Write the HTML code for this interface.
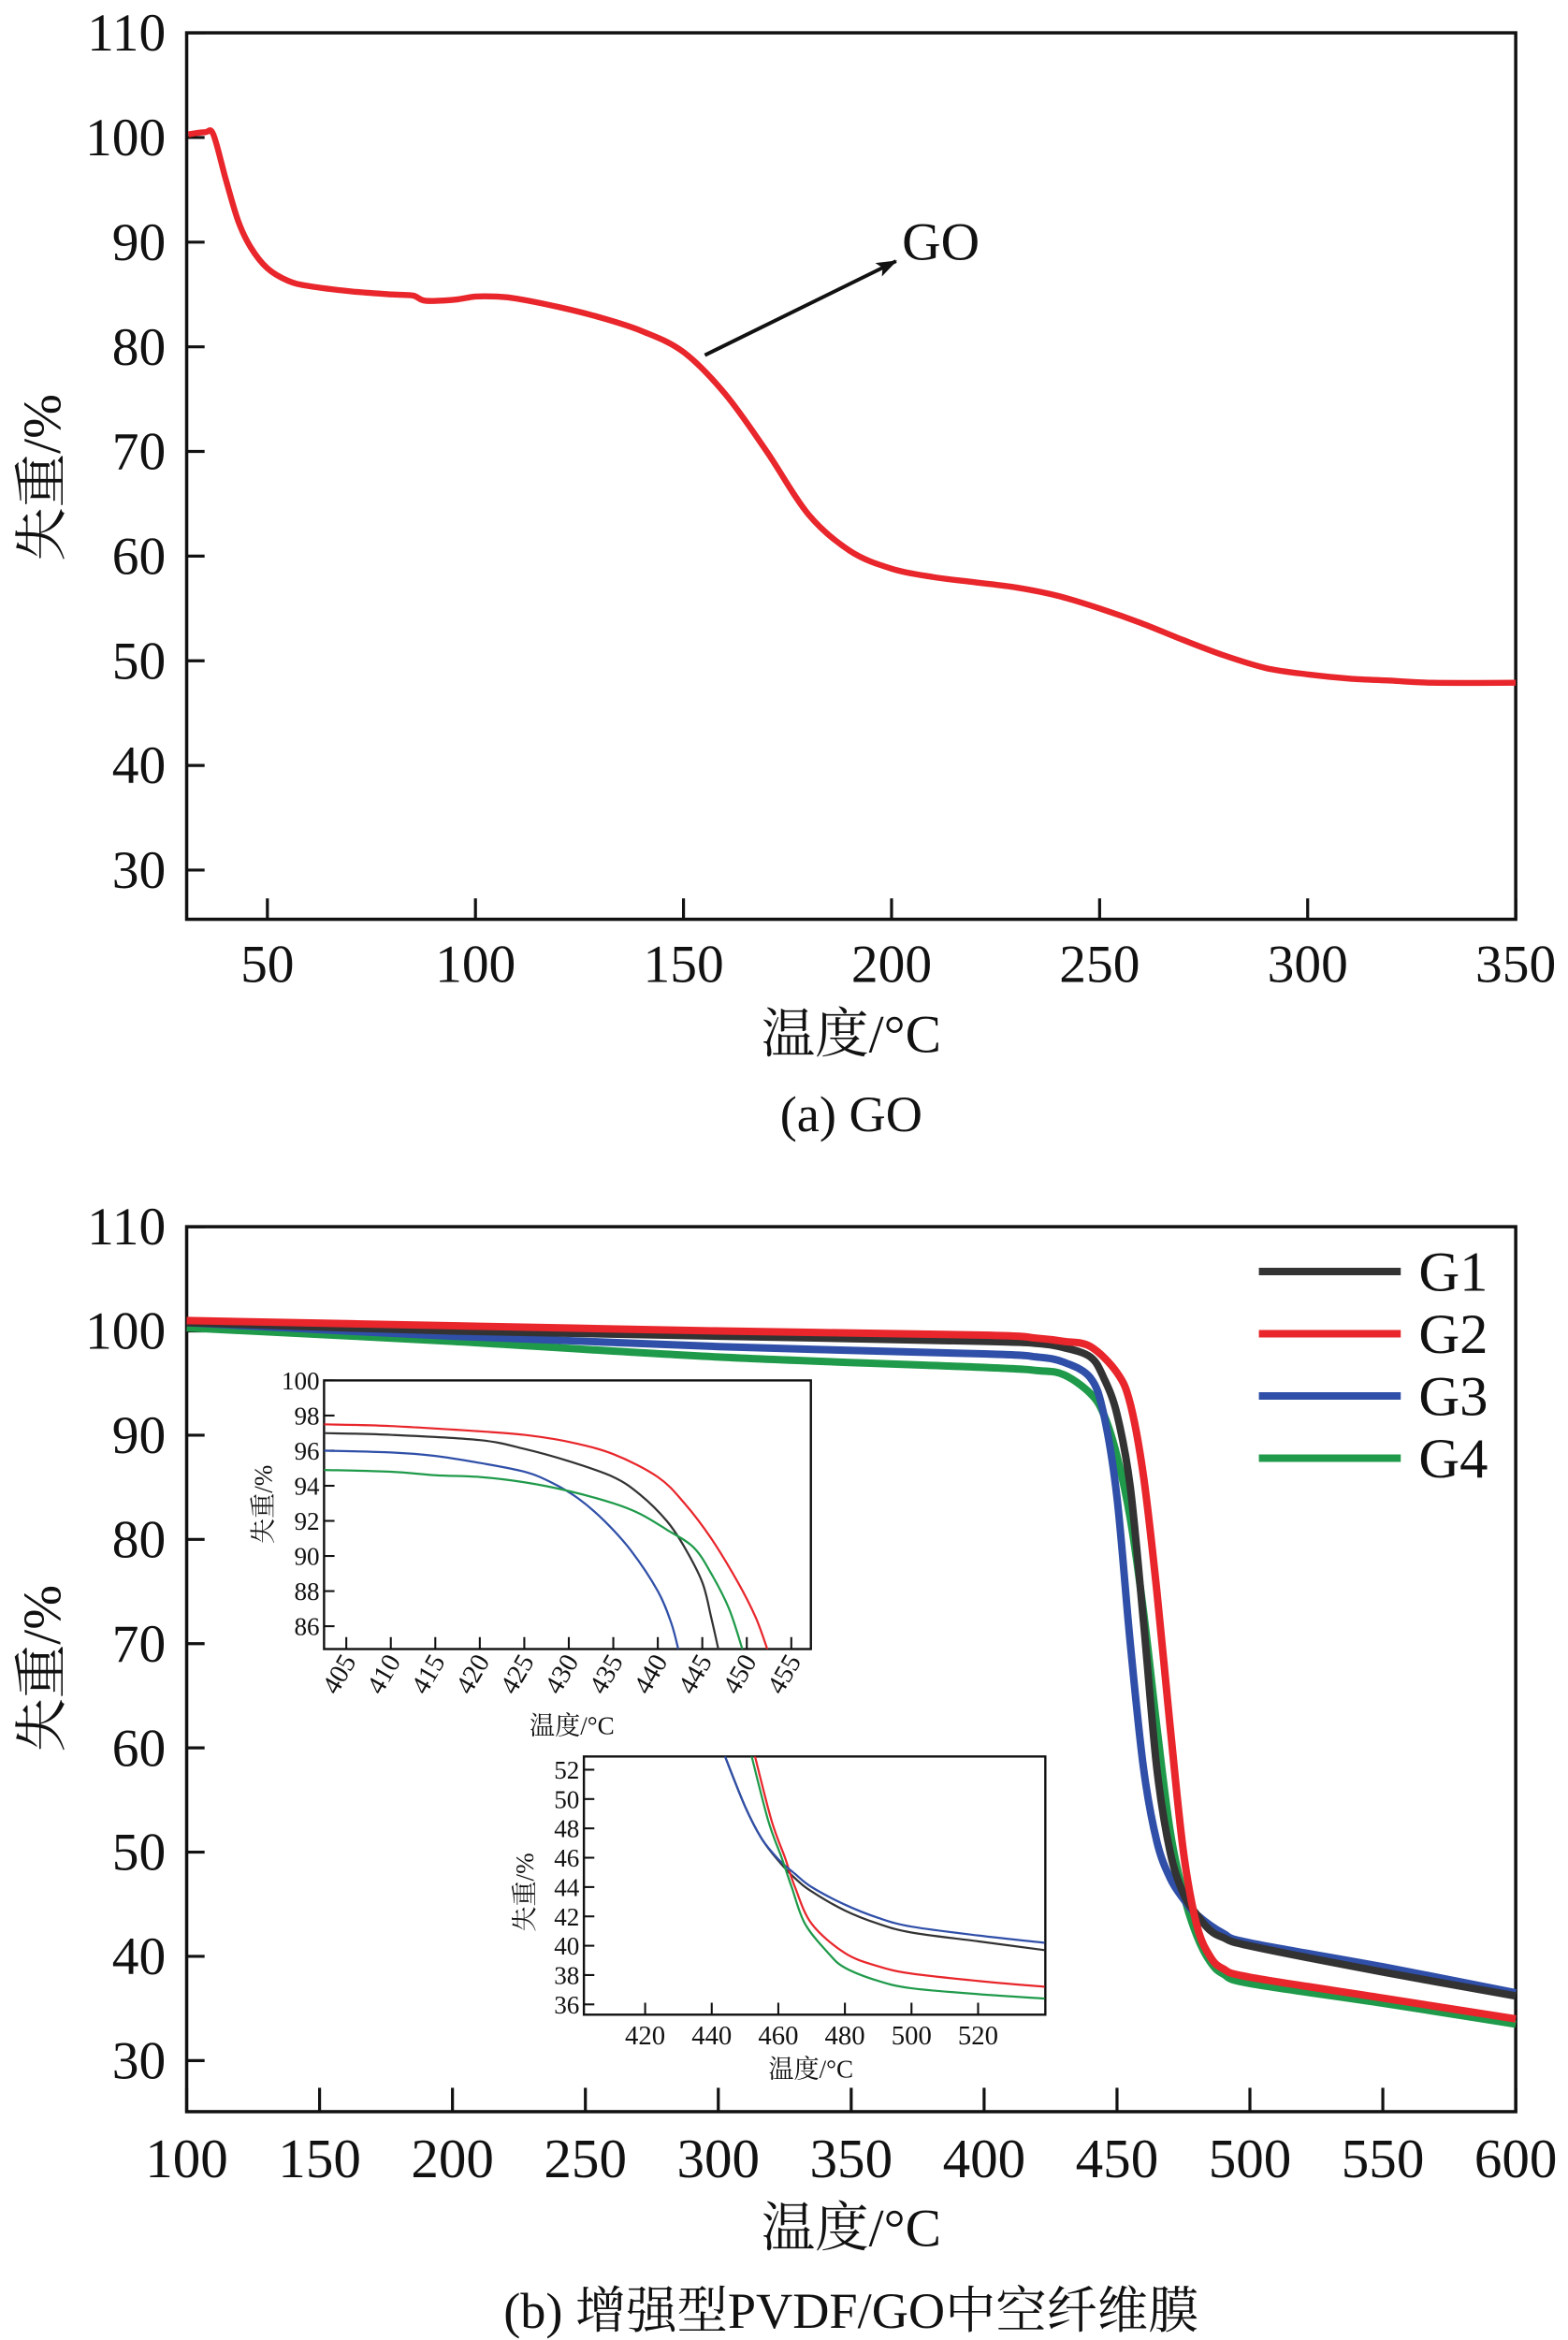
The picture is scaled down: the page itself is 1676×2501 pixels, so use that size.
<!DOCTYPE html>
<html><head><meta charset="utf-8"><style>
html,body{margin:0;padding:0;background:#fff}
svg{display:block}
text{font-family:"Liberation Serif","Noto Serif CJK SC","Noto Sans CJK SC",serif;fill:#111}
</style></head><body>
<svg id="fig" xmlns="http://www.w3.org/2000/svg" width="1676" height="2501" viewBox="0 0 1050 1568" preserveAspectRatio="none"></svg>
<script>
// ---- Data: chart (a) GO ----
const goTemps = [31,35,37,40,43,46,50,55,60,70,80,85,88,95,100,105,110,120,130,140,150,160,170,180,190,200,210,220,230,240,250,260,270,280,290,300,310,320,330,350];
const goWeight = [100.3,100.5,100.3,96,92,89.5,87.5,86.3,85.8,85.3,85,84.9,84.4,84.5,84.8,84.8,84.6,83.8,82.8,81.5,79.5,75.5,70,64,60.5,58.8,58,57.5,57,56.2,55,53.6,52,50.5,49.3,48.7,48.3,48.1,47.9,47.9];
const aXTicks = [50,100,150,200,250,300,350];
const aYTicks = [30,40,50,60,70,80,90,100,110];
// ---- Data: chart (b) main ----
const seriesNames = ["G1","G2","G3","G4"];
const seriesColors = ["#333333","#e8262b","#2f4fa8","#1f9a4a"];
const g1T=[100,200,300,400,420,430,440,445,450,455,460,465,470,475,480,485,490,500,550,600];
const g1W=[100.8,100,99.5,99,98.8,98.4,97.5,95.5,92,85,72,58,50,46,44,42.5,41.8,41,38.5,36.2];
const g2T=[100,200,300,400,420,430,440,450,455,460,465,470,475,480,485,490,500,550,600];
const g2W=[101,100.5,100,99.6,99.3,99,98.5,96,93,86,75,62,50,43,40,38.8,38,36,34];
const g3T=[100,200,300,400,420,430,440,445,450,455,460,465,470,475,480,490,500,550,600];
const g3W=[100.8,99.5,98.5,97.8,97.5,97,95.5,92,84,70,58,51,47.5,45.5,44,42.2,41.3,39,36.5];
const g4T=[100,200,300,400,420,430,440,445,450,455,460,465,470,475,480,485,490,500,550,600];
const g4W=[100.3,99,97.5,96.5,96.2,95.8,94,92,88,82,73,62,52,46,42,39.5,38.3,37.4,35.5,33.5];
const bXTicks=[100,150,200,250,300,350,400,450,500,550,600];
const bYTicks=[30,40,50,60,70,80,90,100,110];
// ---- Inset 1 ----
const i1g1T=[402.5,410,420,425,430,435,438,441,443,445,446,446.8];
const i1g1W=[97,96.9,96.6,96.1,95.4,94.5,93.5,92,90.5,88.5,86.5,84.7];
const i1g2T=[402.5,410,420,425,430,435,440,443,446,449,451,452.3];
const i1g2W=[97.5,97.4,97.1,96.9,96.5,95.8,94.5,93,91,88.5,86.5,84.7];
const i1g3T=[402.5,410,415,420,425,428,431,434,437,440,441.5,442.3];
const i1g3W=[96,95.9,95.7,95.3,94.8,94.2,93.3,92,90.3,88,86.2,84.7];
const i1g4T=[402.5,410,415,420,425,430,435,438,441,444,446,448,449.5];
const i1g4W=[94.9,94.8,94.6,94.5,94.2,93.7,93,92.4,91.5,90.5,89,87,84.7];
const i1XTicks=[405,410,415,420,425,430,435,440,445,450,455];
const i1YTicks=[86,88,90,92,94,96,98,100];
// ---- Inset 2 ----
const i2g1T=[444,450,455,460,465,470,480,490,500,520,540];
const i2g1W=[52.9,49.5,47.3,45.8,44.6,43.7,42.4,41.5,40.9,40.3,39.7];
const i2g2T=[453,458,462,465,470,480,490,500,520,540];
const i2g2W=[52.9,48.5,46,44,41.5,39.5,38.6,38.1,37.6,37.2];
const i2g3T=[444,450,455,460,465,470,480,490,500,520,540];
const i2g3W=[52.9,49.5,47.3,45.9,44.9,44,42.8,41.9,41.3,40.7,40.2];
const i2g4T=[452,457,461,464,468,475,480,490,500,520,540];
const i2g4W=[52.9,48.5,46,44,41.5,39.5,38.5,37.6,37.1,36.7,36.4];
const i2XTicks=[420,440,460,480,500,520];
const i2YTicks=[36,38,40,42,44,46,48,50,52];

const NS="http://www.w3.org/2000/svg";
const svg=document.getElementById('fig');
function mk(tag,attrs,parent){const e=document.createElementNS(NS,tag);for(const k in attrs)e.setAttribute(k,attrs[k]);(parent||svg).appendChild(e);return e;}
function scale(d0,d1,r0,r1){return v=>r0+(v-d0)/(d1-d0)*(r1-r0);}
function smoothD(xs,ys,sx,sy){const p=xs.map((t,i)=>[sx(t),sy(ys[i])]);let d='M'+p[0][0]+','+p[0][1];for(let i=0;i<p.length-1;i++){const p0=p[i-1]||p[i],p1=p[i],p2=p[i+1],p3=p[i+2]||p2;const c1=[p1[0]+(p2[0]-p0[0])/6,p1[1]+(p2[1]-p0[1])/6],c2=[p2[0]-(p3[0]-p1[0])/6,p2[1]-(p3[1]-p1[1])/6];d+='C'+c1[0].toFixed(2)+','+c1[1].toFixed(2)+' '+c2[0].toFixed(2)+','+c2[1].toFixed(2)+' '+p2[0].toFixed(2)+','+p2[1].toFixed(2);}return d;}

function axesBox(g,L,R,T,B,sw){const r=mk('rect',{x:L,y:T,width:R-L,height:B-T,fill:'none',stroke:'#111','stroke-width':sw},g);}

// ===== Chart A =====
const gA=mk('g',{});


const aL=125,aR=1015,aT=22,aB=616;
const axX=scale(30.6,350,aL,aR), axY=scale(25.3,110,aB,aT);
axesBox(gA,aL,aR,aT,aB,2.2);
aXTicks.forEach(v=>{const x=axX(v);mk('line',{x1:x,x2:x,y1:aB,y2:aB-14,stroke:'#111','stroke-width':2},gA);
 const t=mk('text',{x:x,y:aB+42,'text-anchor':'middle','font-size':36},gA);t.textContent=v;
 
 });
aYTicks.forEach(v=>{const y=axY(v);mk('line',{x1:aL,x2:aL+12,y1:y,y2:y,stroke:'#111','stroke-width':2},gA);
 const t=mk('text',{x:aL-14,y:y+12,'text-anchor':'end','font-size':36},gA);t.textContent=v;
 
 });
const goLine=mk('path',{d:smoothD(goTemps,goWeight,axX,axY),fill:'none',stroke:'#e8262b','stroke-width':4,'stroke-linejoin':'round'},gA);


let t;
t=mk('text',{x:570,y:705,'text-anchor':'middle','font-size':36},gA);t.textContent='温度/°C';

t=mk('text',{x:0,y:0,'text-anchor':'middle','font-size':36,transform:'translate(40,320) rotate(-90)'},gA);t.textContent='失重/%';

t=mk('text',{x:570,y:758,'text-anchor':'middle','font-size':34},gA);t.textContent='(a) GO';

mk('defs',{}).innerHTML='<marker id="ah" markerWidth="14" markerHeight="10" refX="13" refY="5" orient="auto" markerUnits="userSpaceOnUse" viewBox="0 0 14 10"><path d="M0,0L14,5L0,10L3,5z" fill="#111"/></marker>';
const arr=mk('line',{x1:472,y1:238,x2:600,y2:175,stroke:'#111','stroke-width':2.5,'marker-end':'url(#ah)'},gA);

t=mk('text',{x:604,y:174,'font-size':36},gA);t.textContent='GO';


// ===== Chart B =====
const gB=mk('g',{});


const bL=125,bR=1015,bT=822,bB=1415;
const bxX=scale(100,600,bL,bR), bxY=scale(25.1,110,bB,bT);
axesBox(gB,bL,bR,bT,bB,2.2);
bXTicks.forEach(v=>{const x=bxX(v);mk('line',{x1:x,x2:x,y1:bB,y2:bB-16,stroke:'#111','stroke-width':2},gB);
 const t=mk('text',{x:x,y:bB+44,'text-anchor':'middle','font-size':37},gB);t.textContent=v;
 
 });
bYTicks.forEach(v=>{const y=bxY(v);mk('line',{x1:bL,x2:bL+12,y1:y,y2:y,stroke:'#111','stroke-width':2},gB);
 const t=mk('text',{x:bL-14,y:y+12,'text-anchor':'end','font-size':36},gB);t.textContent=v;
 
 });
const bT_=[g1T,g2T,g3T,g4T], bW_=[g1W,g2W,g3W,g4W];
[3,2,0,1].forEach(i=>{const p=mk('path',{d:smoothD(bT_[i],bW_[i],bxX,bxY),fill:'none',stroke:seriesColors[i],'stroke-width':5,'stroke-linejoin':'round'},gB);
 
 });
seriesNames.forEach((n,i)=>{const y=852+i*41.7;
 const l=mk('line',{x1:843,x2:938,y1:y,y2:y,stroke:seriesColors[i],'stroke-width':5},gB);
 
 
 const t=mk('text',{x:950,y:y+13,'font-size':38},gB);t.textContent=n;
 
 });
t=mk('text',{x:570,y:1505,'text-anchor':'middle','font-size':36},gB);t.textContent='温度/°C';

t=mk('text',{x:0,y:0,'text-anchor':'middle','font-size':36,transform:'translate(40,1118) rotate(-90)'},gB);t.textContent='失重/%';

t=mk('text',{x:570,y:1560,'text-anchor':'middle','font-size':34},gB);t.textContent='(b) 增强型PVDF/GO中空纤维膜';


// ===== Insets =====
function inset(name,L,R,T,B,xd,yd,xt,yt,Ts,Ws,rot,ylx,yly,xlx,xly){
 const g=mk('g',{},gB);
 
 
 mk('rect',{x:L,y:T,width:R-L,height:B-T,fill:'#fff',stroke:'#111','stroke-width':1.5},g);
 const sx=scale(xd[0],xd[1],L,R), sy=scale(yd[0],yd[1],B,T);
 xt.forEach(v=>{const x=sx(v);mk('line',{x1:x,x2:x,y1:B,y2:B-8,stroke:'#111','stroke-width':1.3},g);
  const t=mk('text',rot?{x:0,y:0,'text-anchor':'end','font-size':18,transform:`translate(${x+7},${B+8}) rotate(-60)`}:{x:x,y:B+20,'text-anchor':'middle','font-size':18},g);
  t.textContent=v;
  
  });
 yt.forEach(v=>{const y=sy(v);mk('line',{x1:L,x2:L+7,y1:y,y2:y,stroke:'#111','stroke-width':1.3},g);
  const t=mk('text',{x:L-3,y:y+6,'text-anchor':'end','font-size':17},g);t.textContent=v;
  
  });
 mk('clipPath',{id:name+'c'},g).innerHTML=`<rect x="${L}" y="${T}" width="${R-L}" height="${B-T}"/>`;
 const cg=mk('g',{'clip-path':`url(#${name}c)`},g);
 Ts.forEach((ts,i)=>{const p=mk('path',{d:smoothD(ts,Ws[i],sx,sy),fill:'none',stroke:seriesColors[i],'stroke-width':1.4},cg);
  
  });
 let t=mk('text',{x:0,y:0,'text-anchor':'middle','font-size':17,transform:`translate(${ylx},${yly}) rotate(-90)`},g);t.textContent='失重/%';
 
 t=mk('text',{x:xlx,y:xly,'text-anchor':'middle','font-size':17},g);t.textContent='温度/°C';
 
}
inset('inset-onset',217,543,925,1105,[402.5,457.2],[84.7,100],i1XTicks,i1YTicks,
 [i1g1T,i1g2T,i1g3T,i1g4T],[i1g1W,i1g2W,i1g3W,i1g4W],true,182,1008,383,1162);
inset('inset-residue',391,700,1177,1350,[401.6,540.2],[35.3,52.9],i2XTicks,i2YTicks,
 [i2g1T,i2g2T,i2g3T,i2g4T],[i2g1W,i2g2W,i2g3W,i2g4W],false,357,1268,543,1392);
</script>
</body></html>
